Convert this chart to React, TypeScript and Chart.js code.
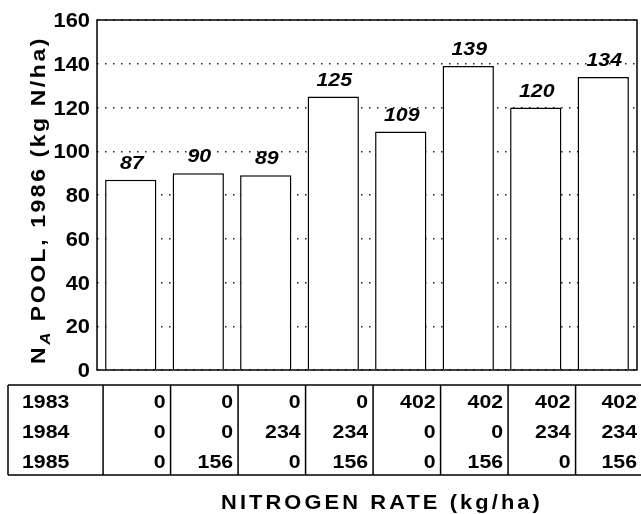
import React, { useEffect, useRef } from "react";
import { Chart, registerables } from "chart.js";

Chart.register(...registerables);

const categories = ["0-0-0", "0-0-156", "0-234-0", "0-234-156", "402-0-0", "402-0-156", "402-234-0", "402-234-156"];
const poolValues = [87, 90, 89, 125, 109, 139, 120, 134];
const years = ["1983", "1984", "1985"];
const rate1983 = [0, 0, 0, 0, 402, 402, 402, 402];
const rate1984 = [0, 0, 234, 234, 0, 0, 234, 234];
const rate1985 = [0, 156, 0, 156, 0, 156, 0, 156];
const yTickValues = [0, 20, 40, 60, 80, 100, 120, 140, 160];
const xTitle = "NITROGEN RATE (kg/ha)";
const yTitleMain = "N";
const yTitleSub = "A";
const yTitleRest = " POOL, 1986 (kg N/ha)";

const FONT = "'Liberation Sans', Arial, Helvetica, sans-serif";
const SX = 1.12;

function drawText(ctx: any, text: string, x: number, y: number, font: string, align: string, sx = SX, spacing = 0) {
  ctx.save();
  ctx.font = font;
  ctx.letterSpacing = spacing + "px";
  ctx.textAlign = align;
  ctx.textBaseline = "alphabetic";
  ctx.translate(x, y);
  ctx.scale(sx, 1);
  ctx.fillText(text, 0, 0);
  ctx.restore();
}

const overlayPlugin = {
  id: "overlay",
  afterDraw(chart: any) {
    const { ctx, chartArea: a, scales } = chart;
    const x = scales.x;
    const y = scales.y;
    ctx.save();
    ctx.fillStyle = "#000";

    // y tick labels
    y.ticks.forEach((t: any) => {
      drawText(ctx, String(t.value), a.left - 7, y.getPixelForValue(t.value) + 7, `bold 19.5px ${FONT}`, "right");
    });

    // value labels
    const meta = chart.getDatasetMeta(0);
    meta.data.forEach((bar: any, i: number) => {
      drawText(ctx, String(poolValues[i]), bar.x + 1, bar.y - 11, `italic bold 19px ${FONT}`, "center");
    });

    // frame
    ctx.lineWidth = 1.5;
    ctx.strokeStyle = "#000";
    ctx.strokeRect(a.left, a.top, a.right - a.left, a.bottom - a.top);

    // table
    const step = x.getPixelForValue(1) - x.getPixelForValue(0);
    const tTop = 385;
    const tBottom = 475;
    const tLeft = 8;
    const rights = categories.map((_, i) => x.getPixelForValue(i) + 0.59 * step);
    const firstLeft = rights[0] - step;
    ctx.lineWidth = 1.5;
    ctx.beginPath();
    ctx.moveTo(tLeft, tTop);
    ctx.lineTo(chart.width + 5, tTop);
    ctx.moveTo(tLeft, tBottom);
    ctx.lineTo(chart.width + 5, tBottom);
    ctx.moveTo(tLeft, tTop);
    ctx.lineTo(tLeft, tBottom);
    ctx.moveTo(firstLeft, tTop);
    ctx.lineTo(firstLeft, tBottom);
    rights.forEach((r) => {
      ctx.moveTo(r, tTop);
      ctx.lineTo(r, tBottom);
    });
    ctx.stroke();

    const rows = [rate1983, rate1984, rate1985];
    const baselines = [408, 438, 468];
    const tf = `bold 19px ${FONT}`;
    years.forEach((yr, r) => {
      drawText(ctx, yr, 22, baselines[r], tf, "left");
      rows[r].forEach((v, i) => {
        drawText(ctx, String(v), Math.min(rights[i] - 5, chart.width - 4), baselines[r], tf, "right");
      });
    });

    // x title, fitted to the reference width
    const xf = `bold 19.5px ${FONT}`;
    ctx.font = xf;
    (ctx as any).letterSpacing = "0px";
    const w0 = ctx.measureText(xTitle).width;
    const targetW = 322;
    const sp = (targetW / SX - w0) / xTitle.length;
    drawText(ctx, xTitle, 382 - targetW / 2, 509, xf, "left", SX, sp);

    // y title (rotated)
    ctx.save();
    ctx.translate(45, 200);
    ctx.rotate(-Math.PI / 2);
    const mf = `bold 20.5px ${FONT}`;
    const sf = `italic bold 15px ${FONT}`;
    ctx.letterSpacing = "0px";
    ctx.font = mf;
    const wMain = ctx.measureText(yTitleMain).width;
    const wRest0 = ctx.measureText(yTitleRest).width;
    ctx.font = sf;
    const wSub = ctx.measureText(yTitleSub).width;
    const targetY = 328;
    const ysp = (targetY / SX - wMain - wSub - wRest0) / (yTitleRest.length + 2);
    let cx = -targetY / 2;
    drawText(ctx, yTitleMain, cx, 0, mf, "left", SX, ysp);
    cx += (wMain + ysp) * SX;
    drawText(ctx, yTitleSub, cx, 5, sf, "left", SX, ysp);
    cx += (wSub + ysp) * SX;
    drawText(ctx, yTitleRest, cx, 0, mf, "left", SX, ysp);
    ctx.restore();

    ctx.restore();
  },
};

export default function App() {
  const canvasRef = useRef<HTMLCanvasElement>(null);

  useEffect(() => {
    const canvas = canvasRef.current;
    if (!canvas) return;
    const chart = new Chart(canvas, {
      type: "bar",
      data: {
        labels: categories,
        datasets: [
          {
            data: poolValues,
            backgroundColor: "#ffffff",
            borderColor: "#000000",
            borderWidth: 1.5,
            borderSkipped: "bottom",
            barPercentage: 0.76,
            categoryPercentage: 1,
          },
        ],
      },
      options: {
        responsive: false,
        animation: false,
        devicePixelRatio: 1,
        layout: { padding: { top: 20, right: 4, left: 0, bottom: 0 } },
        plugins: {
          legend: { display: false },
          tooltip: { enabled: false },
          title: { display: false },
        },
        scales: {
          x: {
            grid: { display: false },
            border: { display: false },
            ticks: { display: false },
            afterFit: (axis: any) => {
              axis.height = 144;
            },
          },
          y: {
            min: 0,
            max: 160,
            afterBuildTicks: (axis: any) => {
              axis.ticks = yTickValues.map((v) => ({ value: v }));
            },
            grid: {
              color: "#222",
              lineWidth: 1.5,
              drawTicks: false,
            },
            border: { display: false, dash: [1.5, 6.5] },
            ticks: { display: false },
            afterFit: (axis: any) => {
              axis.width = 97;
            },
          },
        },
      },
      plugins: [overlayPlugin],
    });
    return () => chart.destroy();
  }, []);

  return (
    <div style={{ position: "fixed", left: 0, top: 0, width: 641, height: 514, background: "#fff" }}>
      <canvas ref={canvasRef} width={641} height={514} style={{ width: 641, height: 514, display: "block" }} />
    </div>
  );
}
